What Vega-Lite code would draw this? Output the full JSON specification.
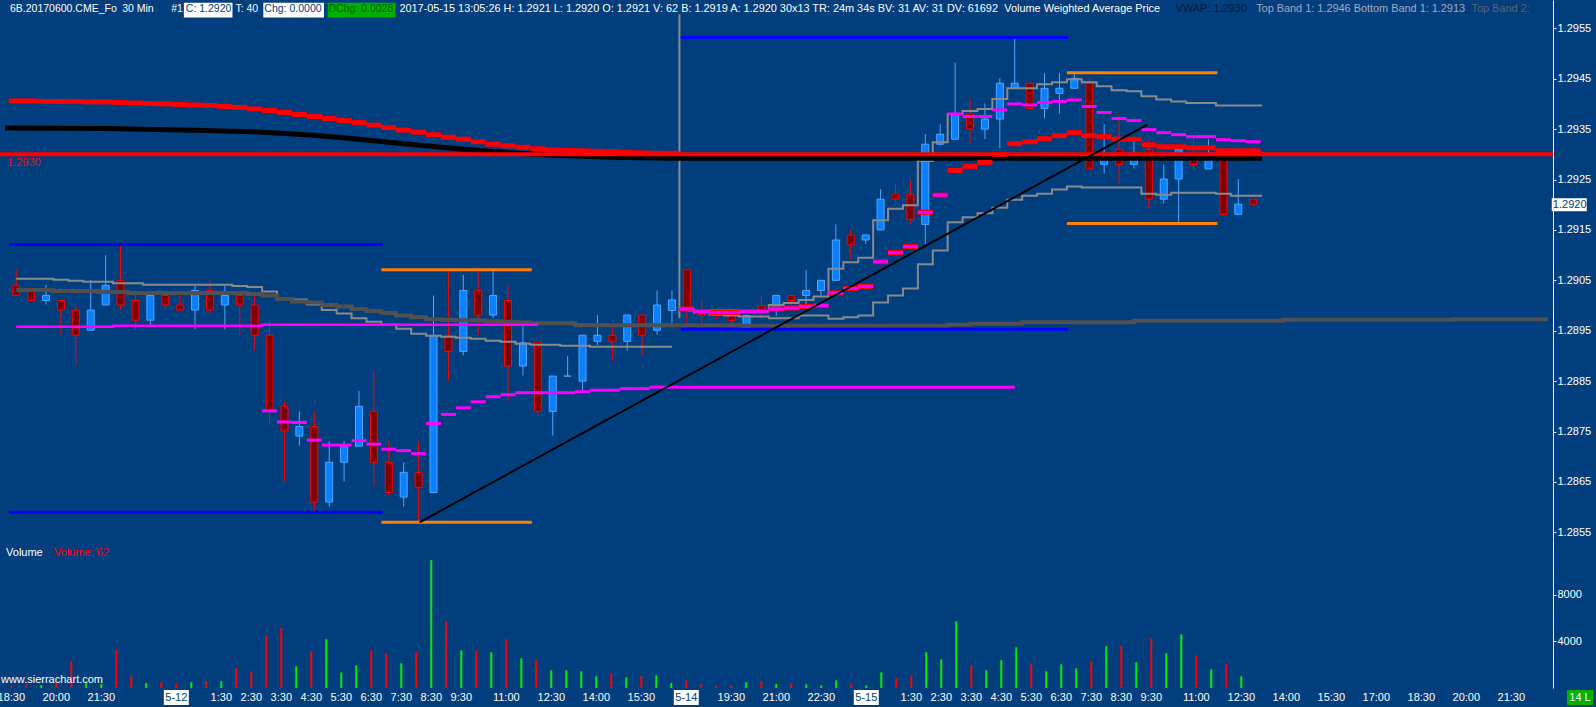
{
  "$schema": "https://vega.github.io/schema/vega-lite/v6.json",
  "background": "#003e7e",
  "padding": 0,
  "spacing": 0,
  "bounds": "flush",
  "config": {
    "view": {"stroke": null},
    "axisX": {"disable": true},
    "text": {"font": "Liberation Sans", "fontSize": 11}
  },
  "datasets": {
    "bars": [
      {"i":0,"o":1.29040,"h":1.29071,"l":1.29020,"c":1.29020,"v":200},
      {"i":1,"o":1.29030,"h":1.29032,"l":1.29010,"c":1.29010,"v":300},
      {"i":2,"o":1.29010,"h":1.29041,"l":1.29002,"c":1.29020,"v":250},
      {"i":3,"o":1.29010,"h":1.29010,"l":1.28942,"c":1.28991,"v":400},
      {"i":4,"o":1.28991,"h":1.29001,"l":1.28881,"c":1.28941,"v":2290},
      {"i":5,"o":1.28951,"h":1.29051,"l":1.28951,"c":1.28991,"v":500},
      {"i":6,"o":1.29001,"h":1.29100,"l":1.29001,"c":1.29040,"v":350},
      {"i":7,"o":1.29050,"h":1.29120,"l":1.28992,"c":1.29001,"v":3260},
      {"i":8,"o":1.29010,"h":1.29030,"l":1.28953,"c":1.28971,"v":1090},
      {"i":9,"o":1.28971,"h":1.29020,"l":1.28962,"c":1.29020,"v":430},
      {"i":10,"o":1.29020,"h":1.29020,"l":1.28992,"c":1.29001,"v":515},
      {"i":11,"o":1.29001,"h":1.29020,"l":1.28991,"c":1.28991,"v":340},
      {"i":12,"o":1.28991,"h":1.29039,"l":1.28953,"c":1.29030,"v":490},
      {"i":13,"o":1.29030,"h":1.29051,"l":1.28982,"c":1.28991,"v":600},
      {"i":14,"o":1.29001,"h":1.29039,"l":1.28953,"c":1.29020,"v":600},
      {"i":15,"o":1.29020,"h":1.29030,"l":1.28942,"c":1.29001,"v":1716},
      {"i":16,"o":1.29001,"h":1.29020,"l":1.28911,"c":1.28941,"v":1430},
      {"i":17,"o":1.28941,"h":1.28971,"l":1.28762,"c":1.28792,"v":4430},
      {"i":18,"o":1.28800,"h":1.28810,"l":1.28651,"c":1.28751,"v":5120},
      {"i":19,"o":1.28741,"h":1.28790,"l":1.28722,"c":1.28760,"v":1860},
      {"i":20,"o":1.28760,"h":1.28790,"l":1.28593,"c":1.28610,"v":3150},
      {"i":21,"o":1.28610,"h":1.28731,"l":1.28601,"c":1.28689,"v":4180},
      {"i":22,"o":1.28689,"h":1.28731,"l":1.28651,"c":1.28721,"v":1340},
      {"i":23,"o":1.28721,"h":1.28830,"l":1.28721,"c":1.28800,"v":1945},
      {"i":24,"o":1.28790,"h":1.28870,"l":1.28641,"c":1.28689,"v":3230},
      {"i":25,"o":1.28689,"h":1.28731,"l":1.28621,"c":1.28629,"v":2975},
      {"i":26,"o":1.28620,"h":1.28689,"l":1.28601,"c":1.28669,"v":2115},
      {"i":27,"o":1.28669,"h":1.28731,"l":1.28570,"c":1.28639,"v":3060},
      {"i":28,"o":1.28629,"h":1.29020,"l":1.28629,"c":1.28941,"v":10950},
      {"i":29,"o":1.28941,"h":1.29069,"l":1.28851,"c":1.28909,"v":5720},
      {"i":30,"o":1.28909,"h":1.29061,"l":1.28901,"c":1.29030,"v":3230},
      {"i":31,"o":1.29030,"h":1.29069,"l":1.28942,"c":1.28981,"v":3230},
      {"i":32,"o":1.28981,"h":1.29069,"l":1.28975,"c":1.29020,"v":3060},
      {"i":33,"o":1.29010,"h":1.29041,"l":1.28811,"c":1.28880,"v":4180},
      {"i":34,"o":1.28880,"h":1.28960,"l":1.28861,"c":1.28926,"v":2545},
      {"i":35,"o":1.28928,"h":1.28928,"l":1.28782,"c":1.28790,"v":2375},
      {"i":36,"o":1.28790,"h":1.28860,"l":1.28742,"c":1.28860,"v":1515},
      {"i":37,"o":1.28860,"h":1.28900,"l":1.28860,"c":1.28860,"v":1515},
      {"i":38,"o":1.28850,"h":1.28941,"l":1.28830,"c":1.28941,"v":1430},
      {"i":39,"o":1.28929,"h":1.28981,"l":1.28922,"c":1.28941,"v":1000},
      {"i":40,"o":1.28941,"h":1.28958,"l":1.28891,"c":1.28929,"v":1260},
      {"i":41,"o":1.28929,"h":1.28981,"l":1.28911,"c":1.28981,"v":915},
      {"i":42,"o":1.28981,"h":1.28981,"l":1.28901,"c":1.28941,"v":1000},
      {"i":43,"o":1.28951,"h":1.29030,"l":1.28942,"c":1.29001,"v":1090},
      {"i":44,"o":1.28990,"h":1.29030,"l":1.28960,"c":1.29011,"v":430},
      {"i":45,"o":1.29071,"h":1.29071,"l":1.28955,"c":1.28990,"v":660},
      {"i":46,"o":1.28990,"h":1.29011,"l":1.28955,"c":1.28980,"v":320},
      {"i":47,"o":1.28988,"h":1.28988,"l":1.28973,"c":1.28980,"v":230},
      {"i":48,"o":1.28985,"h":1.28985,"l":1.28955,"c":1.28970,"v":230},
      {"i":49,"o":1.28955,"h":1.28980,"l":1.28950,"c":1.28980,"v":490},
      {"i":50,"o":1.29000,"h":1.29020,"l":1.28973,"c":1.28990,"v":600},
      {"i":51,"o":1.28990,"h":1.29020,"l":1.28980,"c":1.29020,"v":340},
      {"i":52,"o":1.29020,"h":1.29020,"l":1.29000,"c":1.29010,"v":400},
      {"i":53,"o":1.29020,"h":1.29071,"l":1.29000,"c":1.29030,"v":315},
      {"i":54,"o":1.29030,"h":1.29050,"l":1.29020,"c":1.29050,"v":230},
      {"i":55,"o":1.29050,"h":1.29161,"l":1.29050,"c":1.29130,"v":660},
      {"i":56,"o":1.29140,"h":1.29150,"l":1.29091,"c":1.29120,"v":400},
      {"i":57,"o":1.29130,"h":1.29140,"l":1.29122,"c":1.29140,"v":230},
      {"i":58,"o":1.29150,"h":1.29231,"l":1.29150,"c":1.29211,"v":1340},
      {"i":59,"o":1.29221,"h":1.29241,"l":1.29203,"c":1.29211,"v":830},
      {"i":60,"o":1.29221,"h":1.29251,"l":1.29161,"c":1.29171,"v":1090},
      {"i":61,"o":1.29161,"h":1.29340,"l":1.29122,"c":1.29320,"v":3060},
      {"i":62,"o":1.29320,"h":1.29360,"l":1.29320,"c":1.29340,"v":2460},
      {"i":63,"o":1.29330,"h":1.29482,"l":1.29330,"c":1.29380,"v":5720},
      {"i":64,"o":1.29380,"h":1.29411,"l":1.29320,"c":1.29350,"v":1945},
      {"i":65,"o":1.29350,"h":1.29401,"l":1.29330,"c":1.29370,"v":1515},
      {"i":66,"o":1.29370,"h":1.29451,"l":1.29312,"c":1.29441,"v":2375},
      {"i":67,"o":1.29431,"h":1.29530,"l":1.29431,"c":1.29441,"v":3490},
      {"i":68,"o":1.29441,"h":1.29441,"l":1.29391,"c":1.29391,"v":2115},
      {"i":69,"o":1.29391,"h":1.29461,"l":1.29371,"c":1.29431,"v":1430},
      {"i":70,"o":1.29421,"h":1.29461,"l":1.29381,"c":1.29431,"v":2030},
      {"i":71,"o":1.29431,"h":1.29461,"l":1.29431,"c":1.29451,"v":1690},
      {"i":72,"o":1.29441,"h":1.29451,"l":1.29271,"c":1.29271,"v":2290},
      {"i":73,"o":1.29280,"h":1.29360,"l":1.29262,"c":1.29290,"v":3575},
      {"i":74,"o":1.29310,"h":1.29380,"l":1.29242,"c":1.29280,"v":3575},
      {"i":75,"o":1.29280,"h":1.29331,"l":1.29272,"c":1.29290,"v":2200},
      {"i":76,"o":1.29310,"h":1.29330,"l":1.29192,"c":1.29211,"v":4260},
      {"i":77,"o":1.29211,"h":1.29280,"l":1.29203,"c":1.29251,"v":2975},
      {"i":78,"o":1.29251,"h":1.29312,"l":1.29163,"c":1.29310,"v":4600},
      {"i":79,"o":1.29300,"h":1.29340,"l":1.29272,"c":1.29280,"v":2800},
      {"i":80,"o":1.29271,"h":1.29330,"l":1.29271,"c":1.29290,"v":1600},
      {"i":81,"o":1.29290,"h":1.29310,"l":1.29181,"c":1.29181,"v":2115},
      {"i":82,"o":1.29181,"h":1.29251,"l":1.29181,"c":1.29201,"v":1000},
      {"i":83,"o":1.29211,"h":1.29211,"l":1.29201,"c":1.29201,"v":62}
    ],
    "red": [
      {"i":0,"v":1.29406},{"i":1,"v":1.29406},{"i":2,"v":1.29405},{"i":3,"v":1.29405},{"i":4,"v":1.29405},
      {"i":5,"v":1.29404},{"i":6,"v":1.29404},{"i":7,"v":1.29403},{"i":8,"v":1.29402},{"i":9,"v":1.29401},
      {"i":10,"v":1.29400},{"i":11,"v":1.29399},{"i":12,"v":1.29398},{"i":13,"v":1.29397},{"i":14,"v":1.29395},
      {"i":15,"v":1.29393},{"i":16,"v":1.29390},{"i":17,"v":1.29387},{"i":18,"v":1.29383},{"i":19,"v":1.29379},
      {"i":20,"v":1.29375},{"i":21,"v":1.29371},{"i":22,"v":1.29367},{"i":23,"v":1.29363},{"i":24,"v":1.29358},
      {"i":25,"v":1.29353},{"i":26,"v":1.29348},{"i":27,"v":1.29344},{"i":28,"v":1.29339},{"i":29,"v":1.29334},
      {"i":30,"v":1.29330},{"i":31,"v":1.29325},{"i":32,"v":1.29320},{"i":33,"v":1.29317},{"i":34,"v":1.29314},
      {"i":35,"v":1.29311},{"i":36,"v":1.29309},{"i":37,"v":1.29308},{"i":38,"v":1.29307},{"i":39,"v":1.29306},
      {"i":40,"v":1.29305},{"i":41,"v":1.29304},{"i":42,"v":1.29303},{"i":43,"v":1.29302},{"i":44,"v":1.29302},
      {"i":45,"v":1.28993},{"i":46,"v":1.28988},{"i":47,"v":1.28986},{"i":48,"v":1.28986},{"i":49,"v":1.28988},
      {"i":50,"v":1.28988},{"i":51,"v":1.28993},{"i":52,"v":1.28995},{"i":53,"v":1.28998},{"i":54,"v":1.29000},
      {"i":55,"v":1.29025},{"i":56,"v":1.29034},{"i":57,"v":1.29038},{"i":58,"v":1.29087},{"i":59,"v":1.29105},
      {"i":60,"v":1.29117},{"i":61,"v":1.29185},{"i":62,"v":1.29219},{"i":63,"v":1.29268},{"i":64,"v":1.29276},
      {"i":65,"v":1.29284},{"i":66,"v":1.29300},{"i":67,"v":1.29321},{"i":68,"v":1.29325},{"i":69,"v":1.29331},
      {"i":70,"v":1.29337},{"i":71,"v":1.29343},{"i":72,"v":1.29337},{"i":73,"v":1.29335},{"i":74,"v":1.29330},
      {"i":75,"v":1.29330},{"i":76,"v":1.29319},{"i":77,"v":1.29315},{"i":78,"v":1.29315},{"i":79,"v":1.29313},
      {"i":80,"v":1.29313},{"i":81,"v":1.29307},{"i":82,"v":1.29307},{"i":83,"v":1.29307}
    ],
    "mag": [
      {"i":17,"v":1.28791},{"i":18,"v":1.28769},{"i":19,"v":1.28768},{"i":20,"v":1.28733},{"i":21,"v":1.28723},
      {"i":22,"v":1.28723},{"i":23,"v":1.28732},{"i":24,"v":1.28725},{"i":25,"v":1.28715},{"i":26,"v":1.28712},
      {"i":27,"v":1.28706},{"i":28,"v":1.28766},{"i":29,"v":1.28784},{"i":30,"v":1.28797},{"i":31,"v":1.28809},
      {"i":32,"v":1.28819},{"i":33,"v":1.28823},{"i":34,"v":1.28827},{"i":35,"v":1.28827},{"i":36,"v":1.28827},
      {"i":37,"v":1.28827},{"i":38,"v":1.28829},{"i":39,"v":1.28832},{"i":40,"v":1.28832},{"i":41,"v":1.28835},
      {"i":42,"v":1.28835},{"i":43,"v":1.28838},{"i":44,"v":1.28838},
      {"i":45,"v":1.28993},{"i":46,"v":1.28988},{"i":47,"v":1.28986},{"i":48,"v":1.28986},{"i":49,"v":1.28988},
      {"i":50,"v":1.28988},{"i":51,"v":1.28993},{"i":52,"v":1.28995},{"i":53,"v":1.28998},{"i":54,"v":1.29000},
      {"i":55,"v":1.29025},{"i":56,"v":1.29034},{"i":57,"v":1.29038},{"i":58,"v":1.29087},{"i":59,"v":1.29105},
      {"i":60,"v":1.29117},{"i":61,"v":1.29185},{"i":62,"v":1.29219},
      {"i":63,"v":1.29380},{"i":64,"v":1.29375},{"i":65,"v":1.29375},{"i":66,"v":1.29388},{"i":67,"v":1.29400},
      {"i":68,"v":1.29398},{"i":69,"v":1.29403},{"i":70,"v":1.29405},{"i":71,"v":1.29408},{"i":72,"v":1.29395},
      {"i":73,"v":1.29383},{"i":74,"v":1.29371},{"i":75,"v":1.29367},{"i":76,"v":1.29349},{"i":77,"v":1.29343},
      {"i":78,"v":1.29339},{"i":79,"v":1.29335},{"i":80,"v":1.29335},{"i":81,"v":1.29329},{"i":82,"v":1.29327},
      {"i":83,"v":1.29325}
    ],
    "magPrev": [
      {"i":0,"v":1.28958},{"i":6,"v":1.28958},{"i":7,"v":1.28960},{"i":16,"v":1.28960},{"i":17,"v":1.28962},{"i":35,"v":1.28962}
    ],
    "blackMa": [
      {"i":-0.75,"v":1.29352},{"i":6,"v":1.29351},{"i":12,"v":1.29348},{"i":16,"v":1.29345},{"i":20,"v":1.29338},
      {"i":23,"v":1.29330},{"i":26,"v":1.29321},{"i":30,"v":1.29310},{"i":33,"v":1.29303},{"i":36,"v":1.29298},
      {"i":40,"v":1.29294},{"i":44,"v":1.29292},{"i":83.6,"v":1.29292}
    ],
    "grayMa": [
      {"i":0,"v":1.29031},{"i":1,"v":1.29031},{"i":2,"v":1.29031},{"i":3,"v":1.29029},{"i":4,"v":1.29029},
      {"i":5,"v":1.29029},{"i":6,"v":1.29027},{"i":7,"v":1.29027},{"i":8,"v":1.29025},{"i":15,"v":1.29025},
      {"i":16,"v":1.29023},{"i":17,"v":1.29020},{"i":18,"v":1.29013},{"i":19,"v":1.29008},{"i":20,"v":1.29006},
      {"i":21,"v":1.29001},{"i":22,"v":1.28998},{"i":23,"v":1.28993},{"i":24,"v":1.28989},{"i":25,"v":1.28985},
      {"i":26,"v":1.28980},{"i":27,"v":1.28977},{"i":28,"v":1.28973},{"i":29,"v":1.28972},{"i":30,"v":1.28971},
      {"i":31,"v":1.28971},{"i":32,"v":1.28969},{"i":33,"v":1.28968},{"i":34,"v":1.28967},{"i":35,"v":1.28965},
      {"i":37,"v":1.28965},{"i":38,"v":1.28961},{"i":48,"v":1.28961},{"i":49,"v":1.28960},{"i":62,"v":1.28960},
      {"i":63,"v":1.28962},{"i":65,"v":1.28964},{"i":70,"v":1.28967},{"i":80,"v":1.28970},{"i":90,"v":1.28972},
      {"i":102.8,"v":1.28973}
    ],
    "bandPrev": [
      {"i":0,"v":1.29053},{"i":2,"v":1.29053},{"i":3,"v":1.29051},{"i":4,"v":1.29049},{"i":5,"v":1.29047},
      {"i":6,"v":1.29047},{"i":7,"v":1.29044},{"i":8,"v":1.29044},{"i":9,"v":1.29041},{"i":14,"v":1.29041},
      {"i":15,"v":1.29039},{"i":16,"v":1.29037},{"i":17,"v":1.29028},{"i":18,"v":1.29014},{"i":19,"v":1.29012},
      {"i":20,"v":1.29002},{"i":21,"v":1.28991},{"i":22,"v":1.28984},{"i":23,"v":1.28975},{"i":24,"v":1.28968},
      {"i":25,"v":1.28962},{"i":26,"v":1.28954},{"i":27,"v":1.28944},{"i":28,"v":1.28940},{"i":29,"v":1.28938},
      {"i":30,"v":1.28936},{"i":31,"v":1.28934},{"i":32,"v":1.28930},{"i":33,"v":1.28928},{"i":34,"v":1.28924},
      {"i":35,"v":1.28922},{"i":36,"v":1.28922},{"i":37,"v":1.28920},{"i":38,"v":1.28920},{"i":39,"v":1.28918},
      {"i":44,"v":1.28918}
    ],
    "bandTop": [
      {"i":45,"v":1.28990},{"i":50,"v":1.28990},{"i":51,"v":1.29001},{"i":52,"v":1.29005},{"i":53,"v":1.29011},
      {"i":54,"v":1.29018},{"i":55,"v":1.29073},{"i":56,"v":1.29086},{"i":57,"v":1.29095},{"i":58,"v":1.29169},
      {"i":59,"v":1.29192},{"i":60,"v":1.29199},{"i":61,"v":1.29287},{"i":62,"v":1.29324},{"i":63,"v":1.29380},
      {"i":64,"v":1.29386},{"i":65,"v":1.29390},{"i":66,"v":1.29410},{"i":67,"v":1.29431},{"i":68,"v":1.29431},
      {"i":69,"v":1.29439},{"i":70,"v":1.29443},{"i":71,"v":1.29449},{"i":72,"v":1.29443},{"i":73,"v":1.29435},
      {"i":74,"v":1.29427},{"i":75,"v":1.29425},{"i":76,"v":1.29415},{"i":77,"v":1.29409},{"i":78,"v":1.29405},
      {"i":79,"v":1.29402},{"i":80,"v":1.29402},{"i":81,"v":1.29397},{"i":83.6,"v":1.29397}
    ],
    "bandBot": [
      {"i":45,"v":1.28990},{"i":46,"v":1.28985},{"i":47,"v":1.28982},{"i":48,"v":1.28980},{"i":49,"v":1.28978},
      {"i":50,"v":1.28978},{"i":51,"v":1.28975},{"i":52,"v":1.28975},{"i":53,"v":1.28980},{"i":54,"v":1.28980},
      {"i":55,"v":1.28974},{"i":56,"v":1.28977},{"i":57,"v":1.28980},{"i":58,"v":1.29006},{"i":59,"v":1.29020},
      {"i":60,"v":1.29034},{"i":61,"v":1.29082},{"i":62,"v":1.29109},{"i":63,"v":1.29165},{"i":64,"v":1.29175},
      {"i":65,"v":1.29183},{"i":66,"v":1.29194},{"i":67,"v":1.29210},{"i":68,"v":1.29218},{"i":69,"v":1.29222},
      {"i":70,"v":1.29230},{"i":71,"v":1.29236},{"i":72,"v":1.29234},{"i":75,"v":1.29234},{"i":76,"v":1.29222},
      {"i":77,"v":1.29220},{"i":78,"v":1.29224},{"i":80,"v":1.29224},{"i":81,"v":1.29222},{"i":82,"v":1.29218},
      {"i":83.6,"v":1.29218}
    ],
    "levels": [
      {"x1":-0.5,"x2":24.6,"y":1.29121,"kind":"blue"},
      {"x1":-0.5,"x2":24.6,"y":1.28590,"kind":"blue"},
      {"x1":44.6,"x2":70.6,"y":1.29532,"kind":"blue"},
      {"x1":44.6,"x2":70.6,"y":1.28953,"kind":"blue"},
      {"x1":24.5,"x2":34.6,"y":1.29071,"kind":"orange"},
      {"x1":24.5,"x2":34.6,"y":1.28570,"kind":"orange"},
      {"x1":70.5,"x2":80.6,"y":1.29462,"kind":"orange"},
      {"x1":70.5,"x2":80.6,"y":1.29163,"kind":"orange"},
      {"x1":44.5,"x2":67,"y":1.28838,"kind":"magenta"}
    ],
    "trend": [
      {"i":27.07,"v":1.28570},
      {"i":75.9,"v":1.29359}
    ],
    "times": [
      {"i":0,"t":"18:30","kind":"time"},{"i":3,"t":"20:00","kind":"time"},{"i":6,"t":"21:30","kind":"time"},
      {"i":11,"t":"5-12","kind":"date"},{"i":14,"t":"1:30","kind":"time"},{"i":16,"t":"2:30","kind":"time"},
      {"i":18,"t":"3:30","kind":"time"},{"i":20,"t":"4:30","kind":"time"},{"i":22,"t":"5:30","kind":"time"},
      {"i":24,"t":"6:30","kind":"time"},{"i":26,"t":"7:30","kind":"time"},{"i":28,"t":"8:30","kind":"time"},
      {"i":30,"t":"9:30","kind":"time"},{"i":33,"t":"11:00","kind":"time"},{"i":36,"t":"12:30","kind":"time"},
      {"i":39,"t":"14:00","kind":"time"},{"i":42,"t":"15:30","kind":"time"},{"i":45,"t":"5-14","kind":"date"},
      {"i":48,"t":"19:30","kind":"time"},{"i":51,"t":"21:00","kind":"time"},{"i":54,"t":"22:30","kind":"time"},
      {"i":57,"t":"5-15","kind":"date"},{"i":60,"t":"1:30","kind":"time"},{"i":62,"t":"2:30","kind":"time"},
      {"i":64,"t":"3:30","kind":"time"},{"i":66,"t":"4:30","kind":"time"},{"i":68,"t":"5:30","kind":"time"},
      {"i":70,"t":"6:30","kind":"time"},{"i":72,"t":"7:30","kind":"time"},{"i":74,"t":"8:30","kind":"time"},
      {"i":76,"t":"9:30","kind":"time"},{"i":79,"t":"11:00","kind":"time"},{"i":82,"t":"12:30","kind":"time"},
      {"i":85,"t":"14:00","kind":"time"},{"i":88,"t":"15:30","kind":"time"},{"i":91,"t":"17:00","kind":"time"},
      {"i":94,"t":"18:30","kind":"time"},{"i":97,"t":"20:00","kind":"time"},{"i":100,"t":"21:30","kind":"time"}
    ]
  },
  "vconcat": [
    {
      "width": 1553,
      "height": 540,
      "layer": [
        {
          "data": {"name": "bars"},
          "mark": {"type": "rule", "strokeWidth": 1},
          "encoding": {
            "x": {"field": "i", "type": "quantitative", "scale": {"domain": [-0.7533, 102.7833], "nice": false, "zero": false}},
            "y": {
              "field": "l", "type": "quantitative", "title": null,
              "scale": {"domain": [1.285348, 1.296062], "nice": false, "zero": false},
              "axis": {
                "orient": "right", "title": null, "grid": false,
                "values": [1.2855,1.286,1.2865,1.287,1.2875,1.288,1.2885,1.289,1.2895,1.29,1.2905,1.291,1.2915,1.292,1.2925,1.293,1.2935,1.294,1.2945,1.295,1.2955],
                "format": ".4f", "domainColor": "#ffffff", "domainWidth": 1, "tickColor": "#ffffff", "tickSize": 3,
                "labelColor": "#ffffff", "labelFont": "Liberation Sans",
                "labelFontSize": 11, "labelPadding": 1, "labelOverlap": false, "labelFlush": false, "labelBound": false
              }
            },
            "y2": {"field": "h"},
            "color": {"condition": {"test": "datum.c >= datum.o", "value": "#4da6ff"}, "value": "#ff0000"}
          }
        },
        {
          "data": {"name": "bars"},
          "mark": {"type": "bar", "size": 7, "strokeWidth": 1},
          "encoding": {
            "x": {"field": "i", "type": "quantitative"},
            "y": {"field": "o", "type": "quantitative", "title": null},
            "y2": {"field": "c"},
            "fill": {"condition": {"test": "datum.c >= datum.o", "value": "#0a80ff"}, "value": "#800000"},
            "stroke": {"condition": {"test": "datum.c >= datum.o", "value": "#4da6ff"}, "value": "#ff0000"}
          }
        },
        {
          "data": {"name": "bandPrev"},
          "mark": {"type": "line", "interpolate": "step", "color": "#8a8a8a", "strokeWidth": 2},
          "encoding": {"x": {"field": "i", "type": "quantitative"}, "y": {"field": "v", "type": "quantitative", "title": null}}
        },
        {
          "data": {"name": "bandTop"},
          "mark": {"type": "line", "interpolate": "step", "color": "#8a8a8a", "strokeWidth": 2},
          "encoding": {"x": {"field": "i", "type": "quantitative"}, "y": {"field": "v", "type": "quantitative", "title": null}}
        },
        {
          "data": {"name": "bandBot"},
          "mark": {"type": "line", "interpolate": "step", "color": "#8a8a8a", "strokeWidth": 2},
          "encoding": {"x": {"field": "i", "type": "quantitative"}, "y": {"field": "v", "type": "quantitative", "title": null}}
        },
        {
          "data": {"values": [{}]},
          "mark": {"type": "rule", "color": "#8a8a8a", "strokeWidth": 2},
          "encoding": {"x": {"datum": 44.5}, "y": {"datum": 1.28975}, "y2": {"datum": 1.29578}}
        },
        {
          "data": {"name": "grayMa"},
          "mark": {"type": "line", "interpolate": "step", "color": "#505050", "strokeWidth": 4},
          "encoding": {"x": {"field": "i", "type": "quantitative"}, "y": {"field": "v", "type": "quantitative", "title": null}}
        },
        {
          "data": {"name": "magPrev"},
          "mark": {"type": "line", "interpolate": "step", "color": "#ff00ff", "strokeWidth": 2.5},
          "encoding": {"x": {"field": "i", "type": "quantitative"}, "y": {"field": "v", "type": "quantitative", "title": null}}
        },
        {
          "data": {"name": "blackMa"},
          "mark": {"type": "line", "color": "#000000", "strokeWidth": 5, "clip": true},
          "encoding": {"x": {"field": "i", "type": "quantitative"}, "y": {"field": "v", "type": "quantitative", "title": null}}
        },
        {
          "data": {"values": [{}]},
          "mark": {"type": "rule", "color": "#ff0000", "strokeWidth": 4, "clip": true},
          "encoding": {"y": {"datum": 1.2930}}
        },
        {
          "data": {"name": "red"},
          "mark": {"type": "tick", "orient": "horizontal", "size": 15, "thickness": 5, "color": "#ff0000", "opacity": 1},
          "encoding": {"x": {"field": "i", "type": "quantitative"}, "y": {"field": "v", "type": "quantitative", "title": null}}
        },
        {
          "data": {"name": "mag"},
          "mark": {"type": "tick", "orient": "horizontal", "size": 15, "thickness": 3, "color": "#ff00ff", "opacity": 1},
          "encoding": {"x": {"field": "i", "type": "quantitative"}, "y": {"field": "v", "type": "quantitative", "title": null}}
        },
        {
          "data": {"name": "levels"},
          "mark": {"type": "rule"},
          "encoding": {
            "x": {"field": "x1", "type": "quantitative"},
            "x2": {"field": "x2"},
            "y": {"field": "y", "type": "quantitative", "title": null},
            "color": {"field": "kind", "type": "nominal", "legend": null, "scale": {"domain": ["blue", "orange", "magenta"], "range": ["#0000ff", "#ff8000", "#ff00ff"]}},
            "strokeWidth": {"field": "kind", "type": "nominal", "legend": null, "scale": {"domain": ["blue", "orange", "magenta"], "range": [3, 3, 2]}}
          }
        },
        {
          "data": {"name": "trend"},
          "mark": {"type": "line", "color": "#000000", "strokeWidth": 2},
          "encoding": {"x": {"field": "i", "type": "quantitative"}, "y": {"field": "v", "type": "quantitative", "title": null}}
        },
        {
          "data": {"values": [{}]},
          "mark": {"type": "text", "align": "left", "color": "#ff0000"},
          "encoding": {"x": {"datum": -0.62}, "y": {"datum": 1.292828}, "text": {"value": "1.2930"}}
        },
        {
          "data": {"values": [{}]},
          "mark": {"type": "rect", "color": "#ffffff"},
          "encoding": {"x": {"datum": 11.25}, "x2": {"datum": 14.51}, "y": {"datum": 1.296008}, "y2": {"datum": 1.295713}}
        },
        {
          "data": {"values": [{}]},
          "mark": {"type": "rect", "color": "#ffffff"},
          "encoding": {"x": {"datum": 16.58}, "x2": {"datum": 20.65}, "y": {"datum": 1.296008}, "y2": {"datum": 1.295713}}
        },
        {
          "data": {"values": [{}]},
          "mark": {"type": "rect", "color": "#00b000"},
          "encoding": {"x": {"datum": 20.9}, "x2": {"datum": 25.45}, "y": {"datum": 1.296008}, "y2": {"datum": 1.295713}}
        },
        {
          "data": {"values": [{}]},
          "mark": {"type": "text", "align": "left", "color": "#ffffff", "fontSize": 10.5},
          "encoding": {"x": {"datum": -0.42}, "y": {"datum": 1.295883}, "text": {"value": "6B.20170600.CME_Fo"}}
        },
        {
          "data": {"values": [{}]},
          "mark": {"type": "text", "align": "left", "color": "#ffffff", "fontSize": 10.5},
          "encoding": {"x": {"datum": 7.11}, "y": {"datum": 1.295883}, "text": {"value": "30 Min"}}
        },
        {
          "data": {"values": [{}]},
          "mark": {"type": "text", "align": "left", "color": "#ffffff", "fontSize": 10.5},
          "encoding": {"x": {"datum": 10.4}, "y": {"datum": 1.295883}, "text": {"value": "#1"}}
        },
        {
          "data": {"values": [{}]},
          "mark": {"type": "text", "align": "left", "color": "#003e7e", "fontSize": 10.5},
          "encoding": {"x": {"datum": 11.38}, "y": {"datum": 1.295883}, "text": {"value": "C: 1.2920"}}
        },
        {
          "data": {"values": [{}]},
          "mark": {"type": "text", "align": "left", "color": "#ffffff", "fontSize": 10.5},
          "encoding": {"x": {"datum": 14.71}, "y": {"datum": 1.295883}, "text": {"value": "T: 40"}}
        },
        {
          "data": {"values": [{}]},
          "mark": {"type": "text", "align": "left", "color": "#003e7e", "fontSize": 10.5},
          "encoding": {"x": {"datum": 16.65}, "y": {"datum": 1.295883}, "text": {"value": "Chg: 0.0000"}}
        },
        {
          "data": {"values": [{}]},
          "mark": {"type": "text", "align": "left", "color": "#006400", "fontSize": 10.5},
          "encoding": {"x": {"datum": 20.95}, "y": {"datum": 1.295883}, "text": {"value": "DChg: 0.0028"}}
        },
        {
          "data": {"values": [{}]},
          "mark": {"type": "text", "align": "left", "color": "#ffffff", "fontSize": 10.9},
          "encoding": {"x": {"datum": 25.71}, "y": {"datum": 1.295883}, "text": {"value": "2017-05-15 13:05:26 H: 1.2921 L: 1.2920 O: 1.2921 V: 62 B: 1.2919 A: 1.2920 30x13 TR: 24m 34s BV: 31 AV: 31 DV: 61692"}}
        },
        {
          "data": {"values": [{}]},
          "mark": {"type": "text", "align": "left", "color": "#ffffff", "fontSize": 10.9},
          "encoding": {"x": {"datum": 66.3}, "y": {"datum": 1.295883}, "text": {"value": "Volume Weighted Average Price"}}
        },
        {
          "data": {"values": [{}]},
          "mark": {"type": "text", "align": "left", "color": "#001a33", "fontSize": 10.9},
          "encoding": {"x": {"datum": 77.8}, "y": {"datum": 1.295883}, "text": {"value": "VWAP: 1.2930"}}
        },
        {
          "data": {"values": [{}]},
          "mark": {"type": "text", "align": "left", "color": "#a3abbb", "fontSize": 10.9},
          "encoding": {"x": {"datum": 83.2}, "y": {"datum": 1.295883}, "text": {"value": "Top Band 1: 1.2946  Bottom Band 1: 1.2913"}}
        },
        {
          "data": {"values": [{}]},
          "mark": {"type": "text", "align": "left", "color": "#5a6577", "fontSize": 10.9},
          "encoding": {"x": {"datum": 97.65}, "y": {"datum": 1.295883}, "text": {"value": "Top Band 2:"}}
        },
        {
          "data": {"values": [{}]},
          "mark": {"type": "tick", "orient": "vertical", "thickness": 35, "size": 13, "color": "#ffffff", "opacity": 1},
          "encoding": {"x": {"datum": 104.21}, "y": {"datum": 1.2920}}
        },
        {
          "data": {"values": [{}]},
          "mark": {"type": "text", "align": "left", "color": "#003e7e"},
          "encoding": {"x": {"datum": 103.11}, "y": {"datum": 1.2920}, "text": {"value": "1.2920"}}
        }
      ]
    },
    {
      "width": 1553,
      "height": 148,
      "layer": [
        {
          "data": {"name": "bars"},
          "mark": {"type": "rule", "strokeWidth": 2},
          "encoding": {
            "x": {"field": "i", "type": "quantitative", "scale": {"domain": [-0.7533, 102.7833], "nice": false, "zero": false}},
            "y": {
              "field": "v", "type": "quantitative", "title": null,
              "scale": {"domain": [0, 12676], "nice": false, "zero": false},
              "axis": {
                "orient": "right", "title": null, "grid": false, "values": [4000, 8000], "format": "d",
                "domainColor": "#ffffff", "domainWidth": 1, "tickColor": "#ffffff", "tickSize": 3,
                "labelColor": "#ffffff", "labelFont": "Liberation Sans",
                "labelFontSize": 11, "labelPadding": 1
              }
            },
            "y2": {"datum": 0},
            "color": {"condition": {"test": "datum.c >= datum.o", "value": "#00ee00"}, "value": "#ff0000"}
          }
        },
        {
          "data": {"values": [{}]},
          "mark": {"type": "text", "align": "left", "color": "#ffffff"},
          "encoding": {"x": {"datum": -0.35}, "y": {"datum": 11563}, "text": {"value": "Volume"}}
        },
        {
          "data": {"values": [{}]},
          "mark": {"type": "text", "align": "left", "color": "#ff0000"},
          "encoding": {"x": {"datum": 2.85}, "y": {"datum": 11563}, "text": {"value": "Volume: 62"}}
        },
        {
          "data": {"values": [{}]},
          "mark": {"type": "text", "align": "left", "color": "#ffffff"},
          "encoding": {"x": {"datum": -0.69}, "y": {"datum": 685}, "text": {"value": "www.sierrachart.com"}}
        }
      ]
    },
    {
      "width": 1596,
      "height": 19,
      "layer": [
        {
          "data": {"name": "times"},
          "transform": [{"filter": "datum.kind == 'date'"}],
          "mark": {"type": "tick", "orient": "vertical", "thickness": 25, "size": 15, "color": "#ffffff", "opacity": 1},
          "encoding": {
            "x": {"field": "i", "type": "quantitative", "scale": {"domain": [-0.7533, 105.647], "nice": false, "zero": false}}
          }
        },
        {
          "data": {"name": "times"},
          "mark": {"type": "text", "align": "center", "clip": true},
          "encoding": {
            "x": {"field": "i", "type": "quantitative"},
            "text": {"field": "t"},
            "color": {"condition": {"test": "datum.kind == 'date'", "value": "#003e7e"}, "value": "#ffffff"}
          }
        },
        {
          "data": {"values": [{}]},
          "mark": {"type": "tick", "orient": "vertical", "thickness": 26, "size": 15, "color": "#00b000", "opacity": 1},
          "encoding": {"x": {"datum": 104.58}}
        },
        {
          "data": {"values": [{}]},
          "mark": {"type": "text", "align": "center", "color": "#ffffff"},
          "encoding": {"x": {"datum": 104.58}, "text": {"value": "14 L"}}
        }
      ]
    }
  ]
}
